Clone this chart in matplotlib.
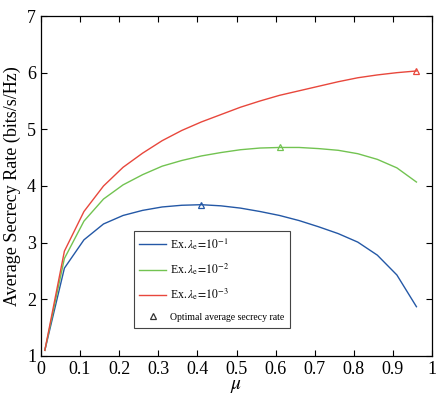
import matplotlib
matplotlib.use('Agg')
import matplotlib.pyplot as plt
from matplotlib.lines import Line2D
import numpy as np

mu = [0.01, 0.06, 0.11, 0.16, 0.21, 0.26, 0.31, 0.36, 0.41, 0.46,
      0.51, 0.56, 0.61, 0.66, 0.71, 0.76, 0.81, 0.86, 0.91, 0.96]
rate_1 = [1.10, 2.55, 3.05, 3.33, 3.48, 3.57, 3.63, 3.66, 3.67, 3.65,
          3.61, 3.55, 3.48, 3.39, 3.28, 3.16, 3.01, 2.78, 2.43, 1.87]
rate_2 = [1.10, 2.72, 3.38, 3.77, 4.02, 4.20, 4.35, 4.45, 4.53, 4.59,
          4.64, 4.67, 4.68, 4.68, 4.66, 4.63, 4.57, 4.47, 4.32, 4.07]
rate_3 = [1.10, 2.85, 3.55, 4.00, 4.33, 4.58, 4.80, 4.98, 5.13, 5.26,
          5.39, 5.50, 5.60, 5.68, 5.76, 5.84, 5.91, 5.96, 6.00, 6.03]
opt_mu = [0.41, 0.61, 0.96]
opt_rate = [3.67, 4.68, 6.03]

labels = [r'Ex.$\,\lambda_{\rm e}\!=\!10^{-1}$',
          r'Ex.$\,\lambda_{\rm e}\!=\!10^{-2}$',
          r'Ex.$\,\lambda_{\rm e}\!=\!10^{-3}$']
colors = ['#2458a6', '#72c351', '#e8473c']

plt.rcParams['font.family'] = ['Liberation Serif', 'DejaVu Serif']
plt.rcParams['mathtext.fontset'] = 'stix'

fig = plt.figure(figsize=(4.4, 4.0), dpi=100)
ax = fig.add_axes([0.093, 0.11, 0.889, 0.85])

handles = []
for ys, c, lab in zip([rate_1, rate_2, rate_3], colors, labels):
    h, = ax.plot(mu, ys, color=c, linewidth=1.0, label=lab)
    handles.append(h)
for x, y, c in zip(opt_mu, opt_rate, colors):
    ax.plot(x, y, marker='^', markersize=5, markerfacecolor='none',
            markeredgecolor=c, markeredgewidth=0.9, linestyle='none')

tri = Line2D([], [], marker='^', markersize=5, markerfacecolor='none',
             markeredgecolor='#333333', markeredgewidth=0.9, linestyle='none',
             label='Optimal average secrecy rate')
handles.append(tri)

leg = ax.legend(handles=handles, loc='upper left', bbox_to_anchor=(0.238, 0.368),
                fontsize=8.5, handlelength=2.3, labelspacing=0.8,
                fancybox=False, edgecolor='#444444', framealpha=1,
                borderpad=0.45, handletextpad=0.3, borderaxespad=0)
leg.get_frame().set_linewidth(0.8)
leg.get_texts()[3].set_fontsize(7)

ax.set_xlim(0, 1)
ax.set_ylim(1, 7)
ax.set_xticks(np.arange(0, 1.01, 0.1))
ax.set_xticklabels(['0', '0.1', '0.2', '0.3', '0.4', '0.5', '0.6', '0.7', '0.8', '0.9', '1'])
ax.set_yticks(range(1, 8))
ax.tick_params(direction='in', top=True, right=True, labelsize=13, length=4, width=0.8)
ax.set_xlabel(r'$\mu$', fontsize=14, labelpad=0)
ax.set_ylabel('Average Secrecy Rate (bits/s/Hz)', fontsize=13, labelpad=4)
for s in ax.spines.values():
    s.set_linewidth(0.9)

fig.savefig('out.png', dpi=100)
